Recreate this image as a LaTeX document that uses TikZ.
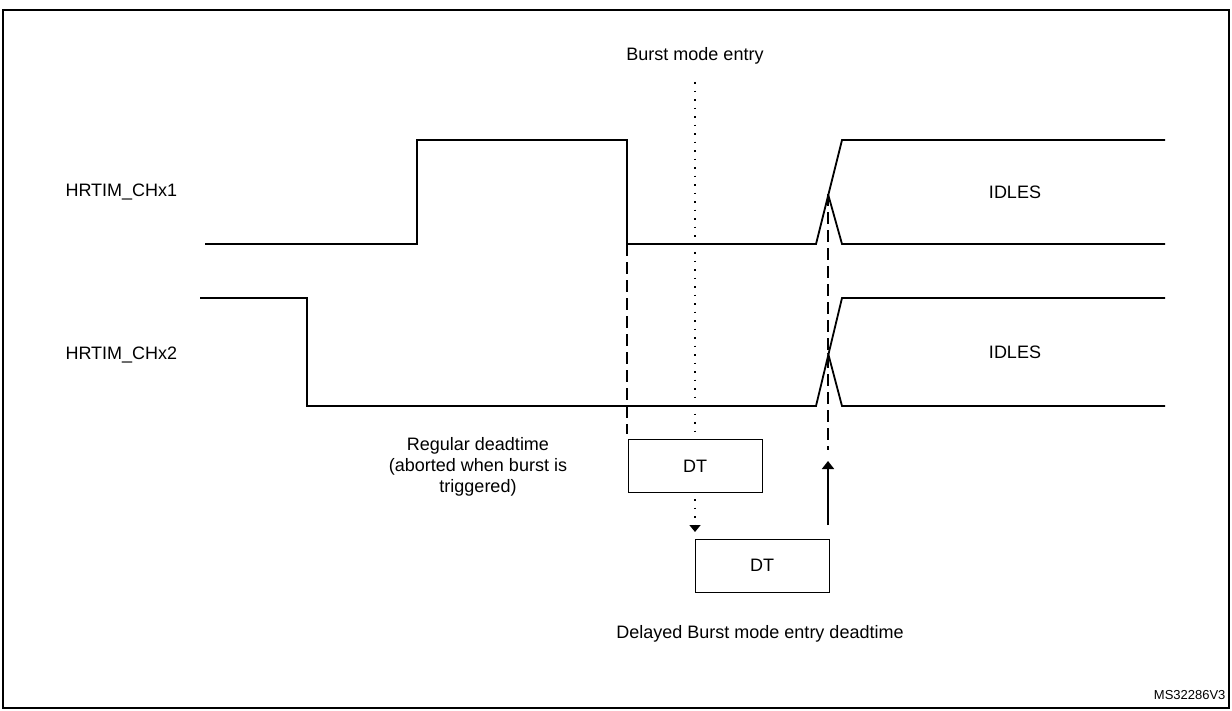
\documentclass[tikz,border=0pt]{standalone}
\usepackage{fontspec}
\setmainfont{Liberation Sans}
\usetikzlibrary{arrows.meta}
\begin{document}
\begin{tikzpicture}[x=1pt,y=-1pt,
 sig/.style={line width=1.8pt},
 lbl/.style={font=\fontsize{18}{21}\selectfont},
 box/.style={draw,line width=1pt,minimum width=134pt,minimum height=53pt,inner sep=0pt,font=\fontsize{18}{21}\selectfont},
 dsh/.style={line width=1.5pt,dash pattern=on 12pt off 6pt},
 dot/.style={line width=1.5pt,dash pattern=on 1.5pt off 7pt}]
\useasboundingbox (0,0) rectangle (1232,710);
\draw[line width=1.8pt] (3,10) rectangle (1229,708);
% CH1
\draw[sig] (205,244) -- (417,244) -- (417,140) -- (627,140) -- (627,244) -- (816,244) -- (842,140) -- (1165,140);
\draw[sig] (828,194) -- (842,244) -- (1165,244);
% CH2
\draw[sig] (200,298) -- (307,298) -- (307,406) -- (816,406) -- (842,298) -- (1165,298);
\draw[sig] (828,353) -- (842,406) -- (1165,406);
% boxes
\node[box] (dt1) at (695,466) {DT};
\node[box] (dt2) at (762,565.5) {DT};
\coordinate (e1) at (627,244);
\coordinate (e2) at (828,194);
\coordinate (bm) at (695,82);
\draw[dsh] (e1) -- (627,434);
\draw[dsh] (e2) -- (828,450);
\draw[dot] (bm) -- (695,434);
\draw[dot,-{Triangle[width=11pt,length=7pt]}] (695,499) -- (695,532);
\draw[line width=1.8pt,-{Triangle[width=12pt,length=8pt]}] (828,525) -- (828,461);
% labels
\node[lbl] (t0) at (695,56) {Burst mode entry};
\node[lbl,anchor=west] (t1) at (62,192) {HRTIM\_CHx1};
\node[lbl,anchor=west] (t2) at (62,355) {HRTIM\_CHx2};
\node[lbl] (t3) at (1015,192) {IDLES};
\node[lbl] (t4) at (1015,352) {IDLES};
\node[lbl,align=center] (t5) at (478,467) {Regular deadtime\\(aborted when burst is\\triggered)};
\node[lbl] (t6) at (760,634) {Delayed Burst mode entry deadtime};
\node[font=\fontsize{13}{15}\selectfont,anchor=east] (t7) at (1229,695) {MS32286V3};
\end{tikzpicture}
\end{document}
